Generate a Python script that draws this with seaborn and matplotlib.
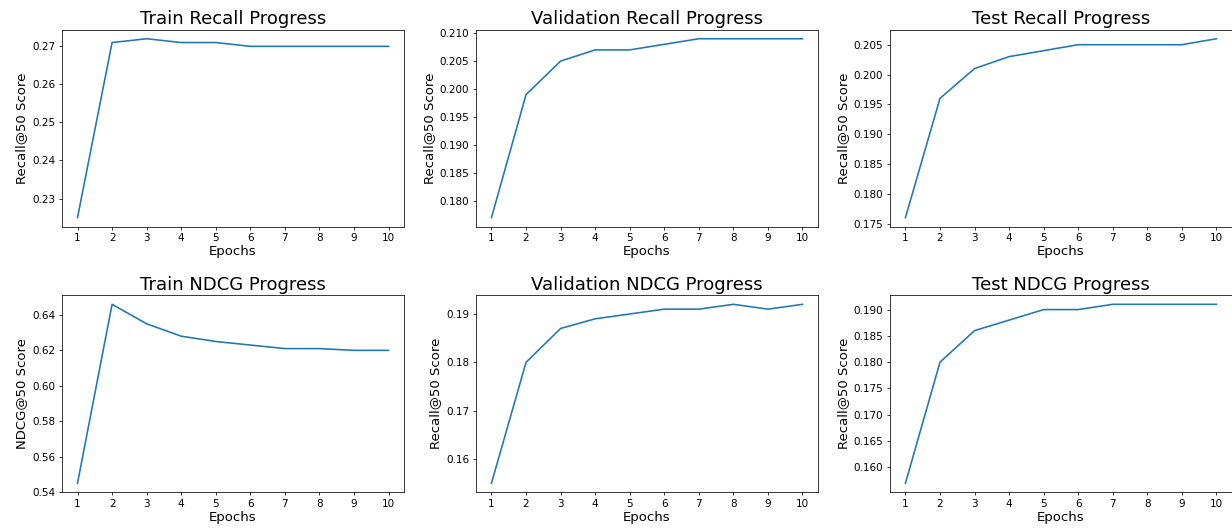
import matplotlib
matplotlib.use("Agg")
import matplotlib.pyplot as plt
from matplotlib.ticker import MultipleLocator
import seaborn as sns

epochs = list(range(1, 11))

train_recall = [0.225, 0.271, 0.272, 0.271, 0.271, 0.270, 0.270, 0.270, 0.270, 0.270]
val_recall = [0.177, 0.199, 0.205, 0.207, 0.207, 0.208, 0.209, 0.209, 0.209, 0.209]
test_recall = [0.176, 0.196, 0.201, 0.203, 0.204, 0.205, 0.205, 0.205, 0.205, 0.206]
train_ndcg = [0.545, 0.646, 0.635, 0.628, 0.625, 0.623, 0.621, 0.621, 0.620, 0.620]
val_ndcg = [0.155, 0.180, 0.187, 0.189, 0.190, 0.191, 0.191, 0.192, 0.191, 0.192]
test_ndcg = [0.157, 0.180, 0.186, 0.188, 0.190, 0.190, 0.191, 0.191, 0.191, 0.191]

titles = [
    "Train Recall Progress", "Validation Recall Progress", "Test Recall Progress",
    "Train NDCG Progress", "Validation NDCG Progress", "Test NDCG Progress",
]
ylabels = [
    "Recall@50 Score", "Recall@50 Score", "Recall@50 Score",
    "NDCG@50 Score", "Recall@50 Score", "Recall@50 Score",
]
series = [train_recall, val_recall, test_recall, train_ndcg, val_ndcg, test_ndcg]

dpi = 68
fig, axes = plt.subplots(2, 3, figsize=(1232 / dpi, 532 / dpi), dpi=dpi)
fig.subplots_adjust(left=0.0503, right=1.0, top=0.944, bottom=0.075,
                    wspace=0.21, hspace=0.35)

for ax, vals, title, ylab in zip(axes.flat, series, titles, ylabels):
    sns.lineplot(x=epochs, y=vals, ax=ax, color="#1f77b4", linewidth=1.7)
    ax.set_title(title, fontsize=19)
    ax.set_xlabel("Epochs", fontsize=14, labelpad=2)
    ax.set_ylabel(ylab, fontsize=14)
    ax.set_xticks(epochs)
    ax.tick_params(labelsize=11)

# the validation NDCG panel uses a coarser y step
axes[1, 1].yaxis.set_major_locator(MultipleLocator(0.01))

fig.savefig("out.png", dpi=dpi)
